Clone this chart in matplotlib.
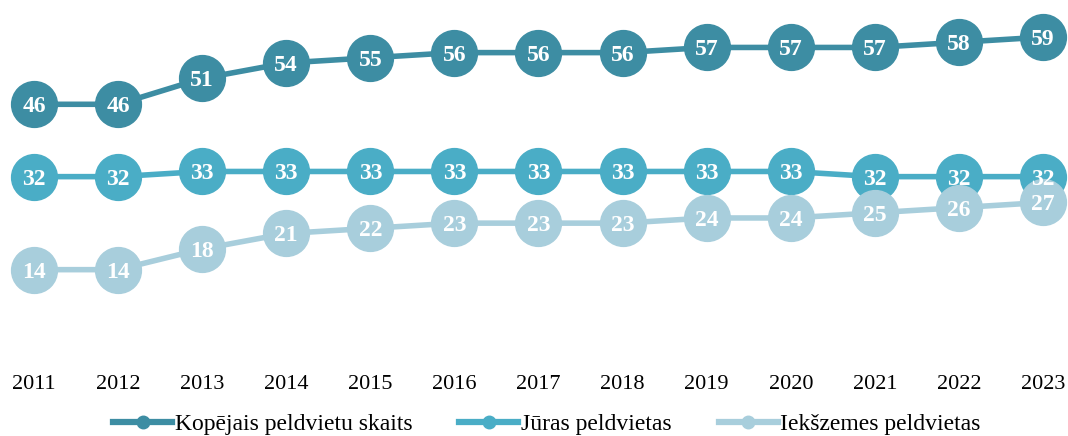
import matplotlib
matplotlib.use("Agg")
import matplotlib.pyplot as plt
from matplotlib.lines import Line2D

years = [2011, 2012, 2013, 2014, 2015, 2016, 2017, 2018, 2019, 2020, 2021, 2022, 2023]
total = [46, 46, 51, 54, 55, 56, 56, 56, 57, 57, 57, 58, 59]
sea = [32, 32, 33, 33, 33, 33, 33, 33, 33, 33, 32, 32, 32]
inland = [14, 14, 18, 21, 22, 23, 23, 23, 24, 24, 25, 26, 27]
labels = ["Kopējais peldvietu skaits", "Jūras peldvietas", "Iekšzemes peldvietas"]
colors = ["#3D8DA3", "#4AADC6", "#A8CEDC"]

plt.rcParams['font.family'] = ['Liberation Serif', 'DejaVu Serif']

fig = plt.figure(figsize=(10.68, 4.36), dpi=100)
ax = fig.add_axes([0, 0.2156, 1, 0.7704])

for series, c in zip([total, sea, inland], colors):
    ax.plot(years, series, color=c, lw=4, marker='o', ms=33, mec=c, mfc=c, zorder=2)
    for x, v in zip(years, series):
        ax.text(x, v, str(v), ha='center', va='center_baseline', color='white',
                fontsize=17, fontweight='bold', zorder=3)

ax.set_xlim(2011 - 0.404, 2023 + 0.297)
ax.set_ylim(0, 65)
ax.set_xticks(years)
ax.set_xticklabels([str(y) for y in years], fontsize=16)
ax.tick_params(axis='x', length=0, pad=24)
ax.set_yticks([])
for s in ax.spines.values():
    s.set_visible(False)

handles = [Line2D([0], [0], color=c, lw=4.5, marker='o', ms=9, mfc=c, mec=c) for c in colors]
fig.legend(handles, labels, loc='center', bbox_to_anchor=(0.512, 0.027), ncol=3,
           frameon=False, fontsize=17, handlelength=2.5, handletextpad=0.1,
           columnspacing=2.0)

fig.savefig("out.png", dpi=100)
